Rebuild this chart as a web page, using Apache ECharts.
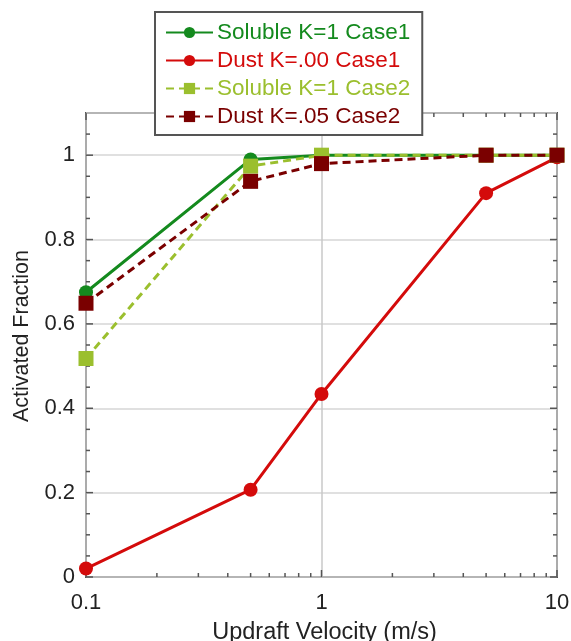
<!DOCTYPE html>
<html>
<head>
<meta charset="utf-8">
<script src="https://cdn.jsdelivr.net/npm/echarts@6/dist/echarts.min.js"></script>
<style>
  html, body { margin: 0; padding: 0; background: #fff; }
  #main { width: 571px; height: 641px; }
</style>
</head>
<body>
<div id="main"></div>
<script>
// updraft velocities (m/s)
const velocities = [0.1, 0.5, 1, 5, 10];
const solubleCase1 = [0.675, 0.99, 1.0, 1.0, 1.0];
const dustCase1 = [0.02, 0.207, 0.434, 0.91, 0.995];
const solubleCase2 = [0.518, 0.974, 1.0, 1.0, 1.0];
const dustCase2 = [0.649, 0.938, 0.98, 1.0, 1.0];

const xMajorTicks = [0.1, 1, 10];
const xMinorTicks = [0.2, 0.3, 0.4, 0.5, 0.6, 0.7, 0.8, 0.9, 2, 3, 4, 5, 6, 7, 8, 9];
const yMajorTicks = [0, 0.2, 0.4, 0.6, 0.8, 1.0];
const yMinorTicks = [0.05, 0.1, 0.15, 0.25, 0.3, 0.35, 0.45, 0.5, 0.55, 0.65, 0.7, 0.75, 0.85, 0.9, 0.95, 1.05];

const green = '#148a1e';
const red = '#d40b0b';
const lightGreen = '#9bbf2e';
const darkRed = '#7a0000';
const font = 'Liberation Sans, Arial, sans-serif';

function pairs(ys) {
  return velocities.map((x, i) => [x, ys[i]]);
}

// tick marks for all four sides: [x, y, kind]
let tickData = [];
xMajorTicks.forEach(v => tickData.push([v, 0, 0]));
xMinorTicks.forEach(v => tickData.push([v, 0, 1]));
yMajorTicks.forEach(v => tickData.push([0.1, v, 2]));
yMinorTicks.forEach(v => tickData.push([0.1, v, 3]));

let myChart = echarts.init(document.getElementById('main'));

let options = {
  animation: false,
  grid: {
    left: 86, right: 14, top: 113, bottom: 64,
    outerBoundsMode: 'none',
    containLabel: false,
    show: true, borderColor: '#555', borderWidth: 2, backgroundColor: 'transparent'
  },
  legend: {
    orient: 'vertical',
    left: 155, top: 12,
    padding: [9, 12, 7, 10],
    itemGap: 5,
    itemWidth: 47,
    itemHeight: 14,
    backgroundColor: '#fff',
    borderColor: '#555',
    borderWidth: 2,
    borderRadius: 0,
    textStyle: { fontFamily: font, fontSize: 22.5, padding: [0, 0, 0, -1] },
    data: [
      { name: 'Soluble K=1 Case1', textStyle: { color: green } },
      { name: 'Dust K=.00 Case1', textStyle: { color: red } },
      { name: 'Soluble K=1 Case2', textStyle: { color: lightGreen } },
      { name: 'Dust K=.05 Case2', textStyle: { color: darkRed } }
    ]
  },
  xAxis: {
    type: 'log',
    logBase: 10,
    min: 0.1,
    max: 10,
    name: 'Updraft Velocity (m/s)',
    nameLocation: 'middle',
    nameGap: 44,
    nameTextStyle: { fontFamily: font, fontSize: 23.5, color: '#222', padding: [0, 0, 0, 6] },
    axisLine: { show: false },
    axisTick: { show: false },
    axisLabel: {
      fontFamily: font, fontSize: 22, color: '#222', margin: 15,
      formatter: v => String(v)
    },
    splitLine: { show: true, lineStyle: { color: '#c8c8c8', width: 1.5 } }
  },
  yAxis: {
    type: 'value',
    min: 0,
    max: 1.1,
    interval: 0.2,
    name: 'Activated Fraction',
    nameLocation: 'middle',
    nameGap: 48,
    nameTextStyle: { fontFamily: font, fontSize: 21.5, color: '#222', padding: [0, 0, 0, 18] },
    axisLine: { show: false },
    axisTick: { show: false },
    axisLabel: {
      fontFamily: font, fontSize: 22, color: '#222', margin: 11,
      showMaxLabel: false,
      formatter: v => String(Math.round(v * 10) / 10)
    },
    splitLine: { show: true, lineStyle: { color: '#d6d6d6', width: 1.5 } }
  },
  series: [
    {
      name: 'Soluble K=1 Case1', type: 'line', data: pairs(solubleCase1),
      symbol: 'circle', symbolSize: 14, z: 5,
      itemStyle: { color: green },
      lineStyle: { color: green, width: 3 }
    },
    {
      name: 'Dust K=.00 Case1', type: 'line', data: pairs(dustCase1),
      symbol: 'circle', symbolSize: 14, z: 4,
      itemStyle: { color: red },
      lineStyle: { color: red, width: 3 }
    },
    {
      name: 'Soluble K=1 Case2', type: 'line', data: pairs(solubleCase2),
      symbol: 'rect', symbolSize: 15, z: 6,
      itemStyle: { color: lightGreen },
      lineStyle: { color: lightGreen, width: 3, type: [8, 5] }
    },
    {
      name: 'Dust K=.05 Case2', type: 'line', data: pairs(dustCase2),
      symbol: 'rect', symbolSize: 15, z: 7,
      itemStyle: { color: darkRed },
      lineStyle: { color: darkRed, width: 3, type: [8, 5] }
    },
    {
      // inward ticks on every side of the box
      type: 'custom',
      silent: true,
      clip: false,
      z: 3,
      data: tickData,
      renderItem: function (params, api) {
        const kind = api.value(2);
        const style = { stroke: '#555', lineWidth: 1.5 };
        if (kind < 2) {
          const len = kind === 0 ? 7 : 4;
          const b = api.coord([api.value(0), 0]);
          const t = api.coord([api.value(0), 1.1]);
          return {
            type: 'group',
            children: [
              { type: 'line', shape: { x1: b[0], y1: b[1], x2: b[0], y2: b[1] - len }, style: style },
              { type: 'line', shape: { x1: t[0], y1: t[1], x2: t[0], y2: t[1] + len }, style: style }
            ]
          };
        }
        const len = kind === 2 ? 7 : 4;
        const l = api.coord([0.1, api.value(1)]);
        const r = api.coord([10, api.value(1)]);
        return {
          type: 'group',
          children: [
            { type: 'line', shape: { x1: l[0], y1: l[1], x2: l[0] + len, y2: l[1] }, style: style },
            { type: 'line', shape: { x1: r[0], y1: r[1], x2: r[0] - len, y2: r[1] }, style: style }
          ]
        };
      }
    }
  ]
};

myChart.setOption(options);
</script>
</body>
</html>
